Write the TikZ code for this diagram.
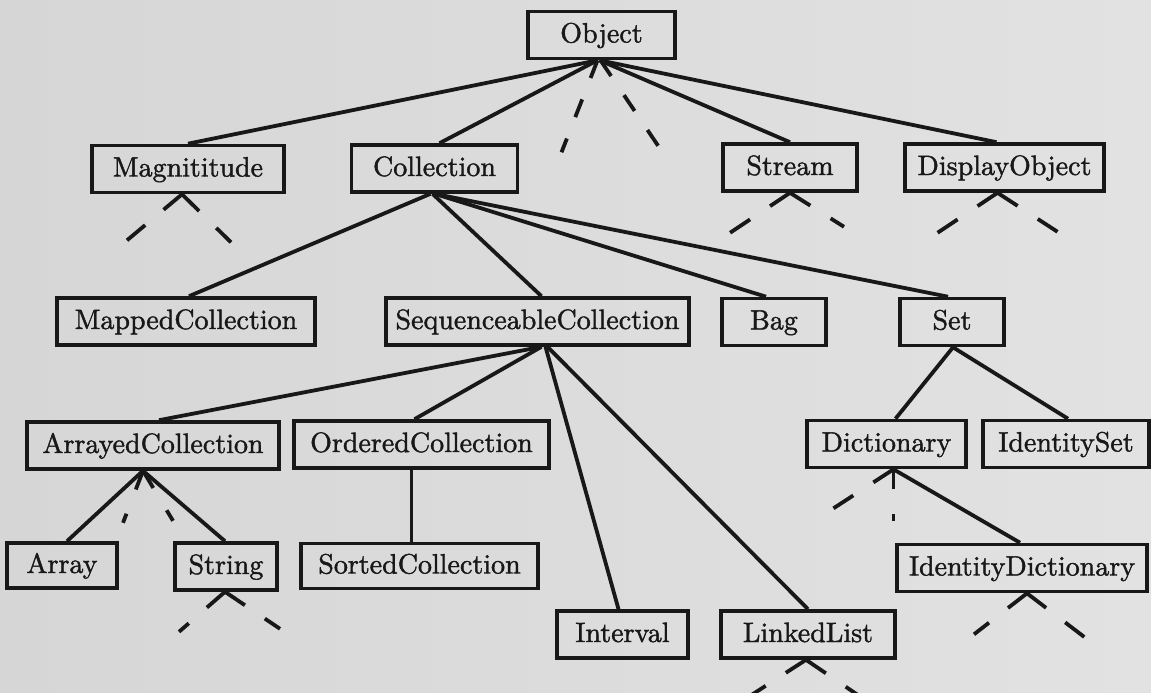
\documentclass[tikz,border=0pt]{standalone}
\usepackage{fontspec}
\usetikzlibrary{calc}
\newfontfamily\clsfont{lmroman10-regular}[Extension=.otf, FakeBold=1.4]
\definecolor{paper}{RGB}{214,214,214}
\definecolor{paperlight}{RGB}{226,226,226}
\definecolor{ink}{RGB}{24,24,24}
\begin{document}
\begin{tikzpicture}[x=1pt,y=-1pt,
  cls/.style={draw=ink, text=ink, line width=3.6pt, inner sep=0pt,
    minimum height=47pt, text height=21pt, text depth=6pt,
    font=\clsfont\fontsize{28}{31}\selectfont},
  link/.style={draw=ink, line width=3.8pt},
  more/.style={draw=ink, line width=3.8pt, dash pattern=on 24pt off 24pt},
]
% page background
\path[left color=paper, right color=paperlight] (0,0) rectangle (1151,693);
\useasboundingbox (0,0) rectangle (1151,693);

% classes
\node[cls, minimum width=147pt] (Object) at (601.5,35) {Object};

\node[cls, minimum width=192pt] (Magnititude) at (188,169) {Magnititude};
\node[cls, minimum width=166pt] (Collection) at (434.5,168.5) {Collection};
\node[cls, minimum width=134pt] (Stream) at (790,167.5) {Stream};
\node[cls, minimum width=199pt] (DisplayObject) at (1004.5,167.5) {DisplayObject};

\node[cls, minimum width=258pt] (Mapped) at (186,321.5) {MappedCollection};
\node[cls, minimum width=303pt] (Sequenceable) at (537.5,321.5) {SequenceableCollection};
\node[cls, minimum width=104pt] (Bag) at (774,322) {Bag};
\node[cls, minimum width=104pt] (Set) at (952,322) {Set};

\node[cls, minimum width=252pt] (Arrayed) at (153,445.5) {ArrayedCollection};
\node[cls, minimum width=255pt] (Ordered) at (421.5,444.5) {OrderedCollection};
\node[cls, minimum width=159pt] (Dictionary) at (886.5,444) {Dictionary};
\node[cls, minimum width=166pt] (IdentitySet) at (1066,444) {IdentitySet};

\node[cls, minimum width=110pt, minimum height=45pt] (Array) at (62,565.5) {Array};
\node[cls, minimum width=102pt] (String) at (226,566.5) {String};
\node[cls, minimum width=237pt, minimum height=45pt] (Sorted) at (419.5,566) {SortedCollection};
\node[cls, minimum width=250pt] (IdentityDictionary) at (1022,568) {IdentityDictionary};

\node[cls, minimum width=131pt] (Interval) at (622.5,634.5) {Interval};
\node[cls, minimum width=174pt] (LinkedList) at (808,634.5) {LinkedList};

% subclass links
\draw[link] ([xshift=-4pt]Object.south) -- (Magnititude.north);
\draw[link] ([xshift=-4pt]Object.south) -- ([xshift=5pt]Collection.north);
\draw[link] ([xshift=-2pt]Object.south) -- (Stream.north);
\draw[link] ([xshift=-2pt]Object.south) -- ([xshift=-8pt]DisplayObject.north);

\draw[link] ([xshift=-4pt]Collection.south) -- ([xshift=3pt]Mapped.north);
\draw[link] ([xshift=-2pt]Collection.south) -- ([xshift=4pt]Sequenceable.north);
\draw[link] ([xshift=0pt]Collection.south) -- ([xshift=-8pt]Bag.north);
\draw[link] ([xshift=0pt]Collection.south) -- ([xshift=-4pt]Set.north);

\draw[link] ([xshift=4pt]Sequenceable.south) -- ([xshift=6pt]Arrayed.north);
\draw[link] ([xshift=4pt]Sequenceable.south) -- ([xshift=-7pt]Ordered.north);
\draw[link] ([xshift=8pt]Sequenceable.south) -- ([xshift=-4pt]Interval.north);
\draw[link] ([xshift=10pt]Sequenceable.south) -- (LinkedList.north);

\draw[link] ([xshift=1pt]Set.south) -- ([xshift=9pt]Dictionary.north);
\draw[link] ([xshift=1pt]Set.south) -- ([xshift=2pt]IdentitySet.north);

\draw[link] ([xshift=-10pt]Arrayed.south) -- ([xshift=5pt]Array.north);
\draw[link] ([xshift=-10pt]Arrayed.south) -- ([xshift=-1pt]String.north);
\draw[link, line width=3.2pt] ([xshift=-10pt]Ordered.south) -- ([xshift=-8pt]Sorted.north);
\draw[link] ([xshift=7pt]Dictionary.south) -- ([xshift=-2pt]IdentityDictionary.north);

% further, unnamed subclasses
\coordinate (objA) at ($([xshift=-4pt]Object.south)+(-36,92)$);
\coordinate (objB) at ($([xshift=-1pt]Object.south)+(62,92)$);
\draw[more, dash pattern=on 19pt off 23pt] ([xshift=-4pt]Object.south) -- (objA);
\draw[more, dash pattern=on 19pt off 23pt] ([xshift=-1pt]Object.south) -- (objB);

\coordinate (magA) at ($([xshift=-6pt]Magnititude.south)+(-55,46)$);
\coordinate (magB) at ($([xshift=-6pt]Magnititude.south)+(49,48)$);
\draw[more] ([xshift=-6pt]Magnititude.south) -- (magA);
\draw[more] ([xshift=-6pt]Magnititude.south) -- (magB);

\coordinate (strA) at ($(Stream.south)+(-60,40)$);
\coordinate (strB) at ($(Stream.south)+(54,34)$);
\draw[more] (Stream.south) -- (strA);
\draw[more] (Stream.south) -- (strB);

\coordinate (dspA) at ($([xshift=-7pt]DisplayObject.south)+(-60,40)$);
\coordinate (dspB) at ($([xshift=-7pt]DisplayObject.south)+(60,39)$);
\draw[more] ([xshift=-7pt]DisplayObject.south) -- (dspA);
\draw[more] ([xshift=-7pt]DisplayObject.south) -- (dspB);

\coordinate (arrA) at ($([xshift=-10pt]Arrayed.south)+(-20,52)$);
\coordinate (arrB) at ($([xshift=-10pt]Arrayed.south)+(30,50)$);
\draw[more, dash pattern=on 20pt off 26pt] ([xshift=-10pt]Arrayed.south) -- (arrA);
\draw[more, dash pattern=on 20pt off 26pt] ([xshift=-10pt]Arrayed.south) -- (arrB);

\coordinate (sgA) at ($([xshift=-1pt]String.south)+(-46,40)$);
\coordinate (sgB) at ($([xshift=-1pt]String.south)+(55,37)$);
\draw[more] ([xshift=-1pt]String.south) -- (sgA);
\draw[more] ([xshift=-1pt]String.south) -- (sgB);

\coordinate (dicA) at ($([xshift=7pt]Dictionary.south)+(-60,39)$);
\coordinate (dicB) at ($([xshift=7pt]Dictionary.south)+(0,52)$);
\draw[more] ([xshift=7pt]Dictionary.south) -- (dicA);
\draw[more, dash pattern=on 20pt off 25pt] ([xshift=7pt]Dictionary.south) -- (dicB);

\coordinate (idA) at ($([xshift=5pt]IdentityDictionary.south)+(-53,41)$);
\coordinate (idB) at ($([xshift=5pt]IdentityDictionary.south)+(59,45)$);
\draw[more] ([xshift=5pt]IdentityDictionary.south) -- (idA);
\draw[more] ([xshift=5pt]IdentityDictionary.south) -- (idB);

\coordinate (llA) at ($([xshift=-2pt]LinkedList.south)+(-62,40)$);
\coordinate (llB) at ($([xshift=-2pt]LinkedList.south)+(56,38)$);
\draw[more] ([xshift=-2pt]LinkedList.south) -- (llA);
\draw[more] ([xshift=-2pt]LinkedList.south) -- (llB);
\end{tikzpicture}
\end{document}
